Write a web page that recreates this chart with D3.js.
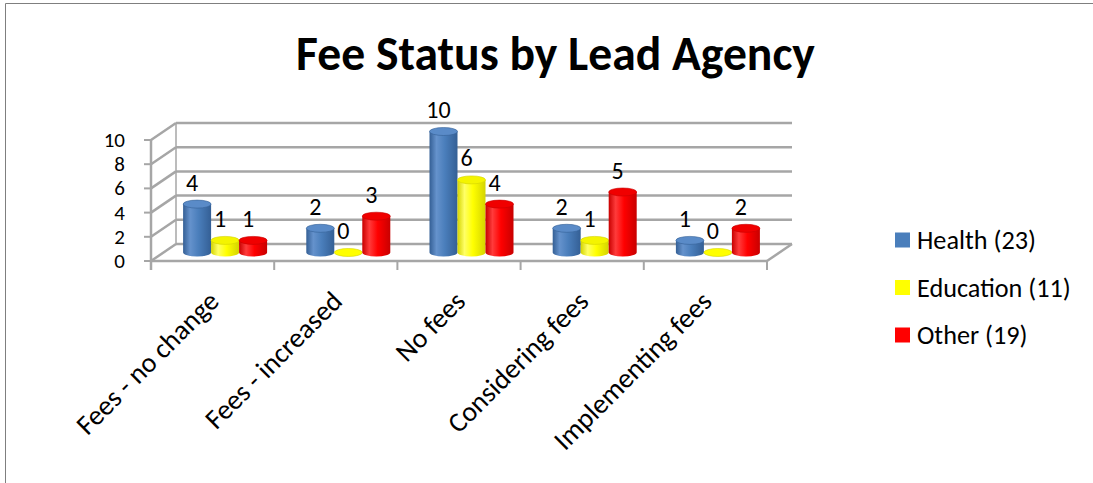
<!DOCTYPE html>
<html>
<head>
<meta charset="utf-8">
<script src="https://cdn.jsdelivr.net/npm/d3@7"></script>
<style>
  html, body { margin: 0; padding: 0; background: #fff; }
  svg { display: block; }
  text { font-family: Carlito, Lato, "Liberation Sans", sans-serif; fill: #000; }
</style>
</head>
<body>
<svg id="chart" width="1093" height="483"></svg>
<script>
// ---- data ----
const categories = ["Fees - no change", "Fees - increased", "No fees", "Considering fees", "Implementing fees"];
const seriesNames = ["Health (23)", "Education (11)", "Other (19)"];
const health = [4, 2, 10, 2, 1];
const education = [1, 0, 6, 1, 0];
const other = [1, 3, 4, 5, 2];
const yTicks = [0, 2, 4, 6, 8, 10];
const title = "Fee Status by Lead Agency";

const seriesValues = [health, education, other];
const colors = [
  {base: "#4a7ebb", dark: "#345f95", light: "#6592cc", top: "#5a8bc8"},
  {base: "#ffff00", dark: "#d4d400", light: "#ffff66", top: "#f4f400"},
  {base: "#ff0000", dark: "#c80000", light: "#ff3b3b", top: "#f00000"}
];

const svg = d3.select("#chart");
const W = 1093, H = 483;

// chart border
svg.append("path").attr("d", `M5.5,${H} V3.5 H${W}`)
  .attr("fill", "none").attr("stroke", "#7f7f7f").attr("stroke-width", 1);

// geometry
const x0 = 151, x1 = 767;
const depthX = 25, depthY = -17;
const x = d3.scaleBand().domain(categories).range([x0, x1]);
const y = d3.scaleLinear().domain([0, 10]).range([261, 140]);
const groupW = 84;
const xs = d3.scaleBand().domain(d3.range(seriesNames.length))
  .range([0, x.bandwidth()]).paddingOuter((x.bandwidth() - groupW) / 2 / (groupW / 3));

// gradients
const defs = svg.append("defs");
colors.forEach((c, i) => {
  const g = defs.append("linearGradient").attr("id", "g" + i)
    .attr("x1", "0%").attr("x2", "100%").attr("y1", "0%").attr("y2", "0%");
  g.append("stop").attr("offset", "0%").attr("stop-color", c.dark);
  g.append("stop").attr("offset", "25%").attr("stop-color", c.light);
  g.append("stop").attr("offset", "55%").attr("stop-color", c.base);
  g.append("stop").attr("offset", "100%").attr("stop-color", c.dark);
});

const grid = svg.append("g");
const gridColor = "#a6a6a6";
// back wall gridlines + side wall slants
yTicks.forEach(t => {
  grid.append("line")
    .attr("x1", x0 + depthX).attr("x2", x1 + depthX)
    .attr("y1", y(t) + depthY).attr("y2", y(t) + depthY)
    .attr("stroke", gridColor).attr("stroke-width", 2.5);
  grid.append("line")
    .attr("x1", x0).attr("x2", x0 + depthX)
    .attr("y1", y(t)).attr("y2", y(t) + depthY)
    .attr("stroke", gridColor).attr("stroke-width", 2.5);
  grid.append("line")
    .attr("x1", x0 - 7).attr("x2", x0)
    .attr("y1", y(t)).attr("y2", y(t))
    .attr("stroke", gridColor).attr("stroke-width", 2);
});
grid.append("line").attr("x1", x0 + depthX).attr("x2", x0 + depthX)
  .attr("y1", y(0) + depthY).attr("y2", y(10) + depthY)
  .attr("stroke", gridColor).attr("stroke-width", 1.5);
grid.append("line").attr("x1", x1).attr("x2", x1 + depthX)
  .attr("y1", y(0)).attr("y2", y(0) + depthY)
  .attr("stroke", gridColor).attr("stroke-width", 2.5);

// bars (cylinders)
const rx = xs.bandwidth() / 2, ry = 4;
const barG = svg.append("g");
const labelsData = [];
categories.forEach((cat, ci) => {
  seriesValues.forEach((vals, si) => {
    const v = vals[ci];
    const cx = x(cat) + xs(si) + rx + depthX / 2;
    const yb = y(0) + depthY / 2;
    const yt = y(v) + depthY / 2;
    const c = colors[si];
    const g = barG.append("g");
    if (v > 0) {
      g.append("path")
        .attr("d", `M${cx - rx},${yt} L${cx - rx},${yb} A${rx},${ry} 0 0 0 ${cx + rx},${yb} L${cx + rx},${yt} Z`)
        .attr("fill", `url(#g${si})`);
    }
    g.append("ellipse").attr("cx", cx).attr("cy", yt).attr("rx", rx).attr("ry", ry)
      .attr("fill", v > 0 ? c.top : c.base).attr("stroke", c.dark).attr("stroke-width", 0.6);
    labelsData.push({v, x: cx - 5, y: yt - ry - 18});
  });
});

// data labels
svg.append("g").selectAll("text").data(labelsData).join("text")
  .attr("x", d => d.x).attr("y", d => d.y)
  .attr("text-anchor", "middle").attr("dominant-baseline", "central")
  .style("font-size", "24px").text(d => d.v);

// front axis lines
const ax = svg.append("g");
ax.append("line").attr("x1", x0).attr("x2", x0).attr("y1", y(10)).attr("y2", y(0) + 9)
  .attr("stroke", gridColor).attr("stroke-width", 2.5);
ax.append("line").attr("x1", x0).attr("x2", x1).attr("y1", y(0)).attr("y2", y(0))
  .attr("stroke", gridColor).attr("stroke-width", 2.5);
const catTicks = categories.map(c => x(c)).concat([x1]);
ax.selectAll(".ct").data(catTicks).join("line")
  .attr("x1", d => d).attr("x2", d => d).attr("y1", y(0)).attr("y2", y(0) + 9)
  .attr("stroke", gridColor).attr("stroke-width", 2);

// y tick labels
svg.append("g").selectAll("text").data(yTicks).join("text")
  .attr("x", 125).attr("y", d => y(d))
  .attr("text-anchor", "end").attr("dominant-baseline", "central")
  .style("font-size", "21px").text(d => d);

function fit(sel, targetW, base) {
  sel.style("font-size", base + "px");
  const w = sel.node().getComputedTextLength();
  const fs = base * targetW / w;
  sel.style("font-size", fs + "px");
  return fs;
}

// category labels
const probe = svg.append("text").text("Considering fees");
const catFs = fit(probe, 186, 22);
probe.remove();
svg.append("g").selectAll("text").data(categories).join("text")
  .attr("transform", d => `translate(${x(d) + x.bandwidth() / 2 + 8},${y(0) + 42}) rotate(-45)`)
  .attr("text-anchor", "end")
  .style("font-size", catFs + "px").text(d => d);

// title
const t = svg.append("text").attr("x", 555.5).attr("y", 70)
  .attr("text-anchor", "middle").style("font-weight", "bold").text(title);
fit(t, 519, 44);

// legend
const probe2 = svg.append("text").text(seriesNames[0]);
const legFs = fit(probe2, 119, 22);
probe2.remove();
const leg = svg.append("g");
seriesNames.forEach((n, i) => {
  const cy = 240 + i * 47.5;
  leg.append("rect").attr("x", 895).attr("y", cy - 7.5).attr("width", 15).attr("height", 15)
    .attr("fill", colors[i].base);
  leg.append("text").attr("x", 917).attr("y", cy).attr("dominant-baseline", "central")
    .style("font-size", legFs + "px").text(n);
});
</script>
</body>
</html>
